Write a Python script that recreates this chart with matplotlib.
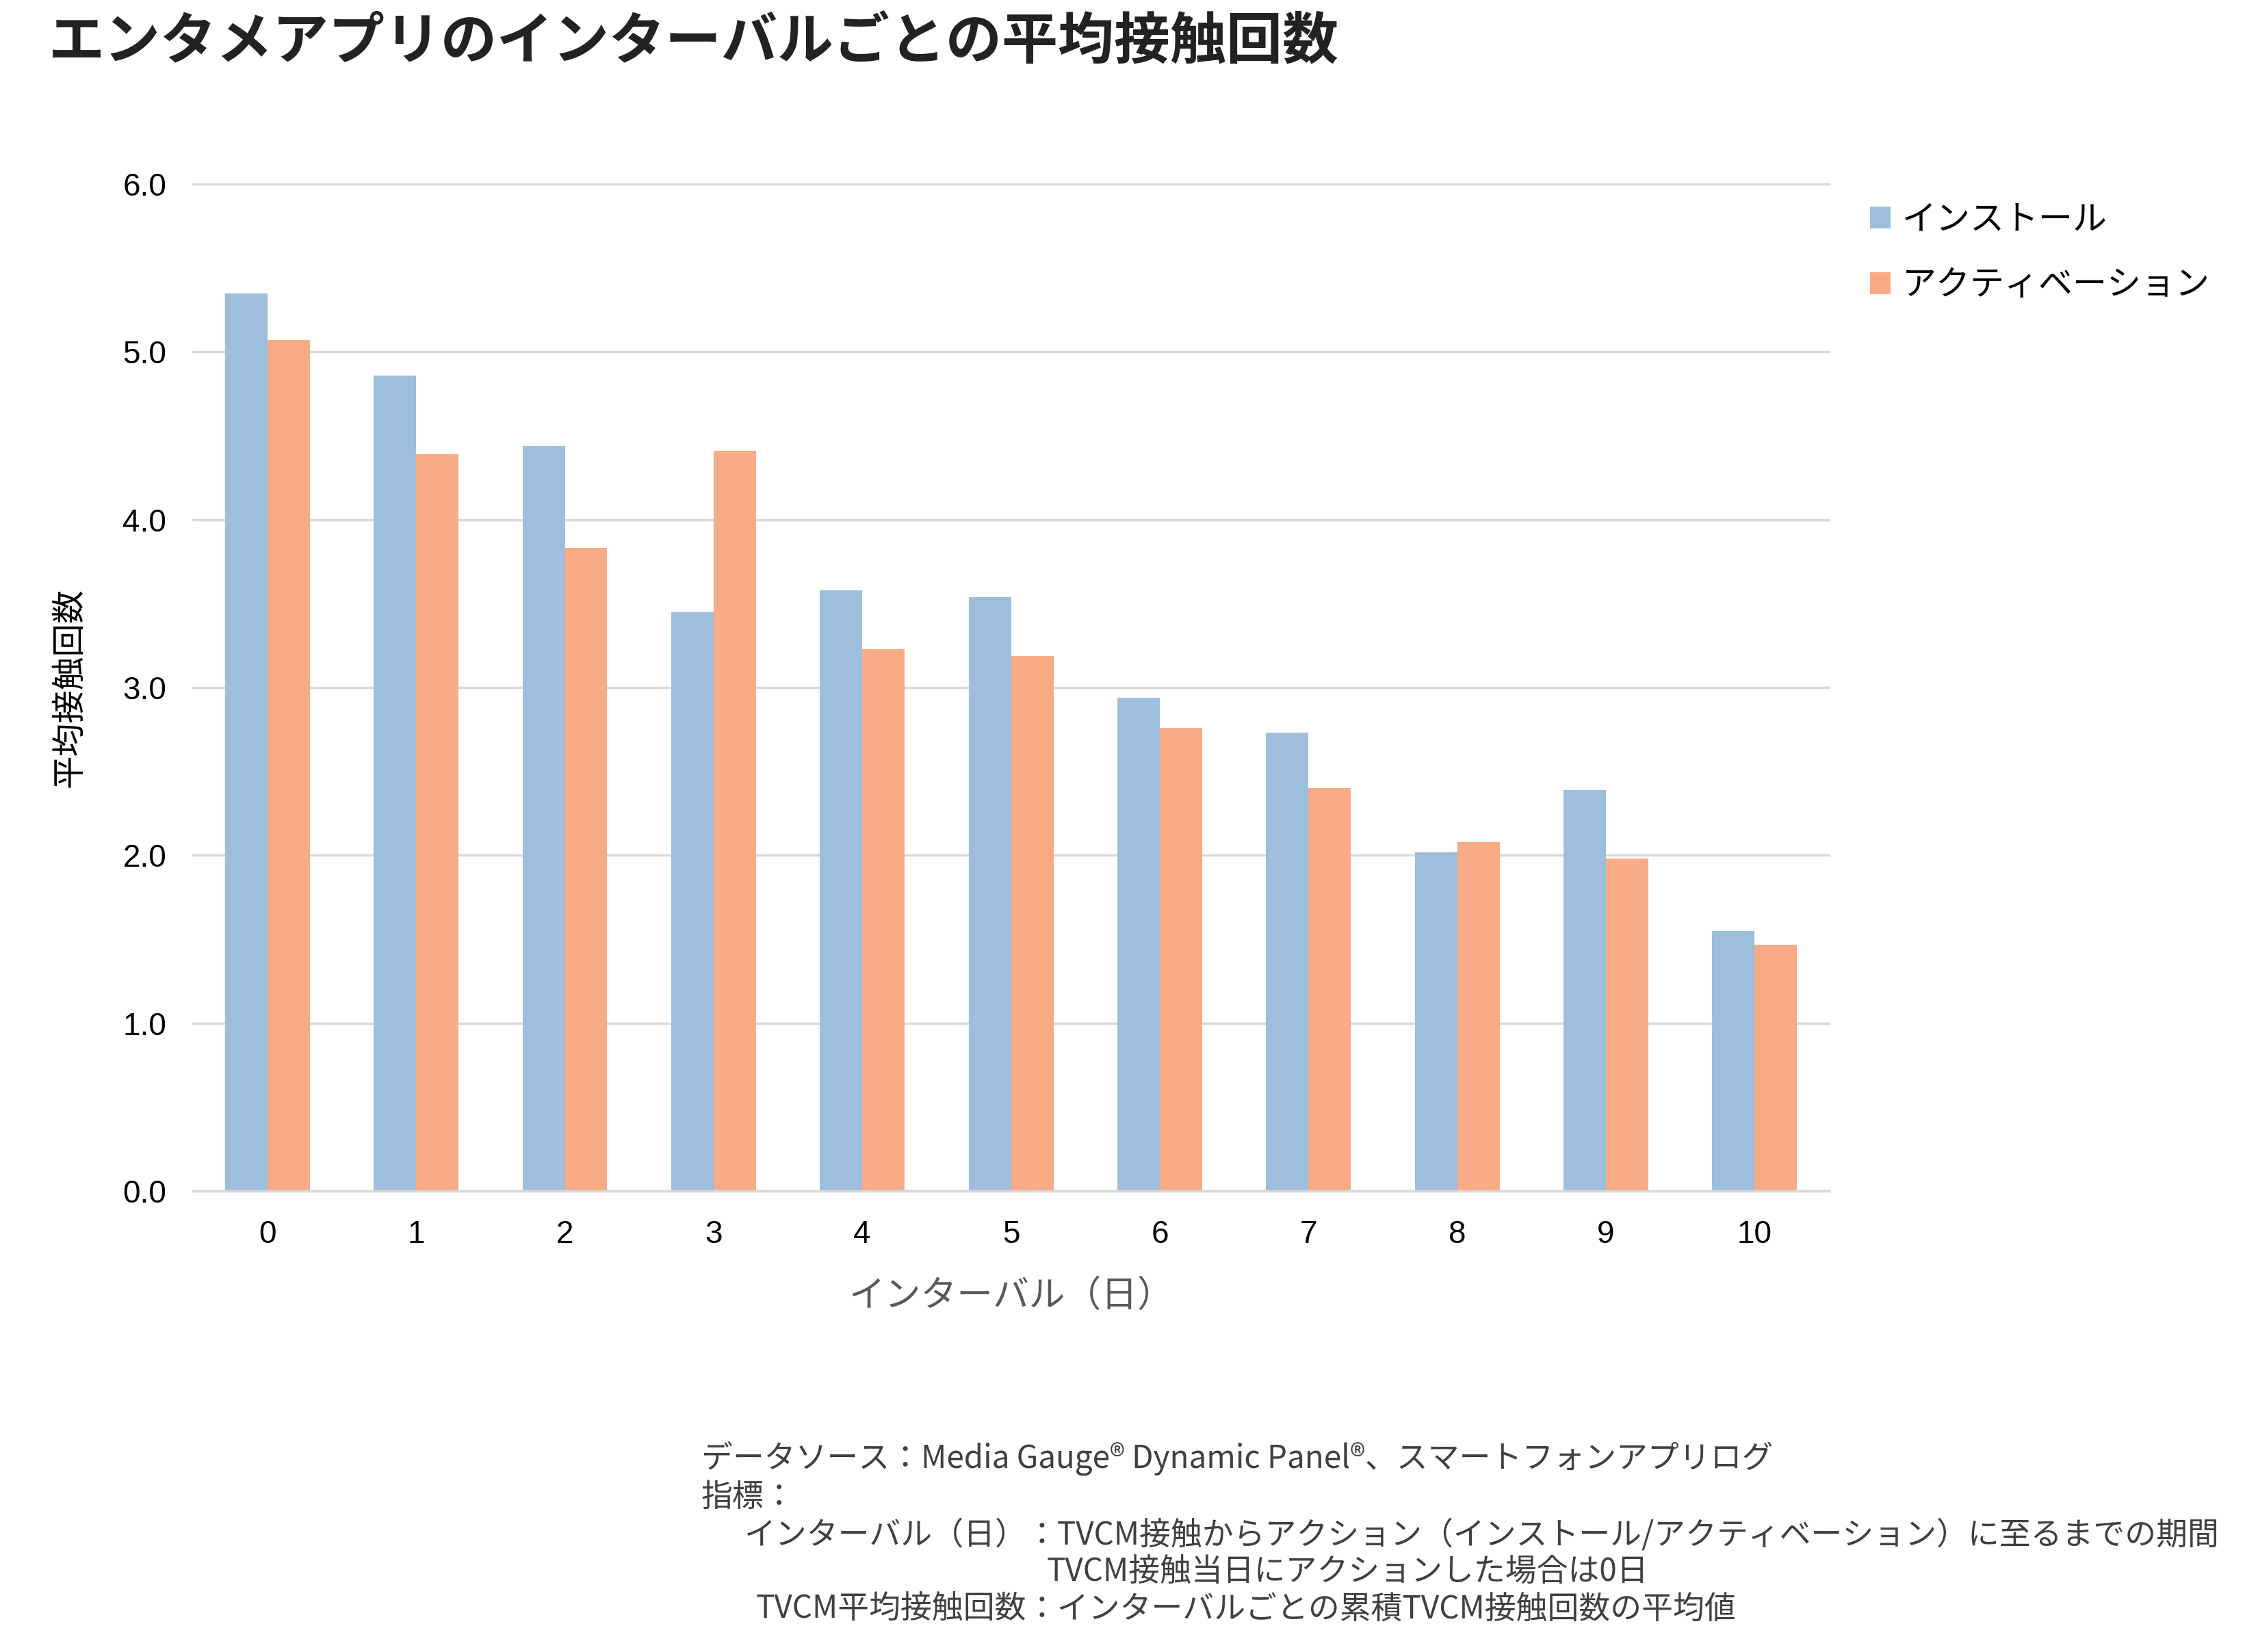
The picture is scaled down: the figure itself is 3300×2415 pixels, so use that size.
import matplotlib
matplotlib.use("Agg")
import matplotlib.pyplot as plt
from matplotlib.patches import Patch
import numpy as np

categories = ["0", "1", "2", "3", "4", "5", "6", "7", "8", "9", "10"]
install = [5.35, 4.86, 4.44, 3.45, 3.58, 3.54, 2.94, 2.73, 2.02, 2.39, 1.55]
activation = [5.07, 4.39, 3.83, 4.41, 3.23, 3.19, 2.76, 2.40, 2.08, 1.98, 1.47]
series_names = ["インストール", "アクティベーション"]
yticks = [0.0, 1.0, 2.0, 3.0, 4.0, 5.0, 6.0]

title = "エンタメアプリのインターバルごとの平均接触回数"
ylabel = "平均接触回数"
xlabel = "インターバル（日）"

C_BLUE = "#9DBFDD"
C_ORANGE = "#F8AB84"
GRID = "#D9D9D9"

JP = ["Noto Sans CJK JP", "DejaVu Sans"]
NUM = ["Liberation Sans", "Noto Sans CJK JP", "DejaVu Sans"]
plt.rcParams["font.family"] = JP

fig = plt.figure(figsize=(33, 24.15), dpi=100)
ax = fig.add_axes([0.0855, 0.279, 0.7245, 0.6096])

x = np.arange(len(categories))
w = 0.285
ax.bar(x - w / 2, install, width=w, color=C_BLUE, label=series_names[0], zorder=3)
ax.bar(x + w / 2, activation, width=w, color=C_ORANGE, label=series_names[1], zorder=3)

ax.set_xlim(-0.5, len(categories) - 0.5)
ax.set_ylim(0, 6.0)
ax.set_yticks(yticks)
ax.set_yticklabels([f"{v:.1f}" for v in yticks], fontfamily=NUM, fontsize=33)
ax.set_xticks(x)
ax.set_xticklabels(categories, fontfamily=NUM, fontsize=33)
ax.tick_params(axis="both", length=0)
ax.tick_params(axis="y", pad=28)
ax.tick_params(axis="x", pad=30)
for s in ["top", "right", "left"]:
    ax.spines[s].set_visible(False)
ax.spines["bottom"].set_color(GRID)
ax.spines["bottom"].set_linewidth(2.5)
ax.spines["bottom"].set_zorder(4)
ax.yaxis.grid(True, color=GRID, linewidth=2.5, zorder=0, clip_on=False)
ax.set_axisbelow(True)

ax.set_ylabel(ylabel, fontsize=35, labelpad=38, color="#000000")
ax.set_xlabel(xlabel, fontsize=38, labelpad=29, color="#595959")

fig.text(0.0215, 1 - 63 / 2415, title, fontsize=59, fontweight="bold", color="#222222",
         ha="left", va="center")

handles = [Patch(facecolor=C_BLUE, edgecolor="none"), Patch(facecolor=C_ORANGE, edgecolor="none")]
fig.legend(handles, series_names, loc="upper left", bbox_to_anchor=(0.822, 0.886),
           frameon=False, fontsize=36, handlelength=0.6, handleheight=0.6,
           handletextpad=0.35, labelspacing=0.88, borderaxespad=0)

FOOT = "#404040"
fs = 33
def fy(px):
    return 1 - px / 2415
fig.text(1025 / 3300, fy(2132), "データソース：Media Gauge® Dynamic Panel®、スマートフォンアプリログ",
         fontsize=fs, color=FOOT, ha="left", va="center")
fig.text(1025 / 3300, fy(2189), "指標：", fontsize=fs, color=FOOT, ha="left", va="center")
xc = 1500 / 3300
fig.text(xc, fy(2244), "インターバル（日）", fontsize=fs, color=FOOT, ha="right", va="center")
fig.text(xc, fy(2244), "：TVCM接触からアクション（インストール/アクティベーション）に至るまでの期間",
         fontsize=fs, color=FOOT, ha="left", va="center")
fig.text(1530 / 3300, fy(2298), "TVCM接触当日にアクションした場合は0日",
         fontsize=fs, color=FOOT, ha="left", va="center")
fig.text(xc, fy(2353), "TVCM平均接触回数", fontsize=fs, color=FOOT, ha="right", va="center")
fig.text(xc, fy(2353), "：インターバルごとの累積TVCM接触回数の平均値",
         fontsize=fs, color=FOOT, ha="left", va="center")

fig.savefig("out.png", dpi=100, facecolor="white")
